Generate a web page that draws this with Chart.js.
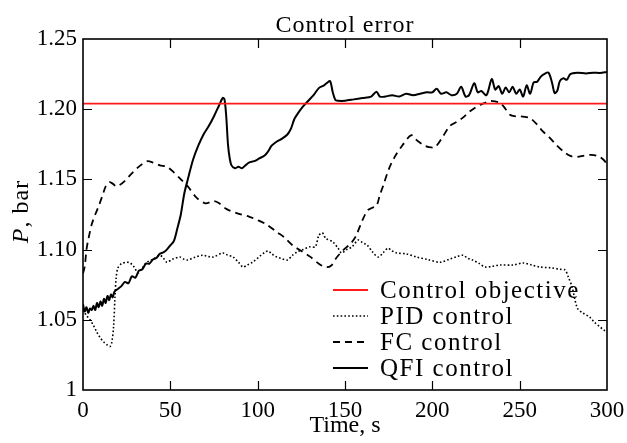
<!DOCTYPE html>
<html>
<head>
<meta charset="utf-8">
<script src="https://cdn.jsdelivr.net/npm/chart.js@4.4.1/dist/chart.umd.min.js"></script>
<style>
    body { margin: 0; background: #fff; }
    #wrap { width: 627px; height: 443px; }
</style>
</head>
<body>
<div id="wrap"><canvas id="errorChart" width="627" height="443"></canvas></div>
<script>
// Control objective (setpoint)
const objectiveValue = 1.204;
const xTicks = [0, 50, 100, 150, 200, 250, 300];
const yTicks = [1, 1.05, 1.10, 1.15, 1.20, 1.25];

// PID control
const pidTime = [0, 2, 4, 6, 8, 10, 12, 14, 15.5, 16.5, 17.5, 18.3, 19, 20, 22, 25, 27, 29, 31.6, 34, 36.6, 40, 44, 46, 48, 51, 55.5, 58, 60, 64, 68.7, 72, 74.6, 80, 83, 86, 89, 91.6, 94, 97, 101, 104, 106, 108, 111, 114, 117, 120, 122.5, 126, 130, 133, 135, 137, 139, 143, 146, 148, 151, 154, 157.6, 160, 162.6, 166, 169, 172, 174.6, 177, 179.6, 185, 191, 197, 204.4, 210, 214, 217.7, 220, 223, 227, 230, 234, 238.7, 246, 252, 257, 261.6, 268, 273, 276, 278, 280, 283, 286, 290, 293, 296, 298, 300];
const pidValues = [1.057, 1.053, 1.050, 1.046, 1.041, 1.037, 1.034, 1.032, 1.031, 1.034, 1.045, 1.066, 1.080, 1.087, 1.090, 1.091, 1.0905, 1.088, 1.0835, 1.087, 1.091, 1.093, 1.096, 1.094, 1.091, 1.093, 1.0947, 1.093, 1.0926, 1.0945, 1.096, 1.095, 1.0947, 1.0976, 1.096, 1.0947, 1.091, 1.0876, 1.089, 1.091, 1.095, 1.098, 1.099, 1.097, 1.0947, 1.0935, 1.0926, 1.096, 1.0983, 1.100, 1.102, 1.102, 1.110, 1.112, 1.108, 1.1055, 1.101, 1.0976, 1.100, 1.102, 1.1068, 1.105, 1.1033, 1.098, 1.0947, 1.098, 1.101, 1.099, 1.0976, 1.097, 1.0947, 1.093, 1.091, 1.0933, 1.095, 1.096, 1.094, 1.0926, 1.090, 1.0876, 1.088, 1.089, 1.089, 1.0905, 1.089, 1.0876, 1.087, 1.086, 1.0855, 1.080, 1.0734, 1.0584, 1.055, 1.052, 1.048, 1.0449, 1.043, 1.0413];

// FC control
const fcTime = [0, 1, 2, 3, 5, 7, 9, 11, 13, 15, 17, 19, 21, 24, 27, 31, 34, 37, 40, 44, 48, 52, 56, 60, 65, 70, 75, 78, 82, 88, 95, 100, 105, 111, 115, 120, 125, 130, 135, 139, 142, 145, 149, 153, 156, 160, 163, 166, 168, 170, 172, 175, 178, 183, 188, 191, 195, 198, 201.5, 205.5, 210, 214, 217.5, 221, 225, 229, 233, 236, 239, 242, 244.5, 247, 250, 253, 256, 260, 263, 267, 271, 275, 279, 283, 287, 291, 295, 298, 300];
const fcValues = [1.083, 1.088, 1.100, 1.107, 1.118, 1.125, 1.131, 1.138, 1.145, 1.148, 1.147, 1.145, 1.146, 1.149, 1.153, 1.158, 1.161, 1.163, 1.162, 1.160, 1.159, 1.155, 1.150, 1.145, 1.137, 1.133, 1.1345, 1.133, 1.129, 1.126, 1.1235, 1.121, 1.118, 1.1125, 1.109, 1.103, 1.099, 1.095, 1.090, 1.0875, 1.0885, 1.094, 1.0997, 1.104, 1.109, 1.121, 1.128, 1.130, 1.131, 1.139, 1.146, 1.157, 1.165, 1.1745, 1.1815, 1.178, 1.1745, 1.173, 1.173, 1.1795, 1.188, 1.191, 1.194, 1.198, 1.2015, 1.204, 1.2058, 1.2055, 1.2044, 1.200, 1.196, 1.195, 1.195, 1.1945, 1.1937, 1.189, 1.1845, 1.180, 1.1745, 1.170, 1.1667, 1.166, 1.167, 1.1675, 1.1665, 1.164, 1.161];

// QFI control
const qfiTime = [0, 1, 2, 3, 4, 5, 6, 7, 8, 9, 10, 11, 12, 13, 14, 15, 16, 17, 18, 20, 22, 24, 26, 28, 30, 32, 34, 36, 38, 40, 42, 44, 46, 48, 50, 52, 54, 56, 58, 60, 63, 66, 69, 72, 75, 78, 80, 81, 82, 83, 84, 85, 87, 89, 91, 93, 95, 98, 101, 104, 106, 108, 111, 114, 117, 119, 121, 123, 126, 129, 132, 135, 138, 140, 141.5, 143, 144.5, 146, 150, 155, 160, 165, 168, 170, 173, 177, 181, 185, 189, 193, 197, 200, 202.5, 205, 208, 211, 214, 216.5, 219, 221, 224, 226, 228, 231, 234, 236, 238, 240, 242, 244, 246, 248, 250, 252, 254, 256, 258, 260, 262, 264, 266.5, 268.5, 270, 271.5, 273, 275, 277, 279, 283, 288, 292, 296, 300];
const qfiValues = [1.061, 1.056, 1.059, 1.055, 1.058, 1.057, 1.060, 1.057, 1.062, 1.059, 1.063, 1.060, 1.065, 1.062, 1.067, 1.064, 1.068, 1.066, 1.070, 1.072, 1.074, 1.077, 1.076, 1.081, 1.080, 1.085, 1.086, 1.090, 1.090, 1.093, 1.094, 1.097, 1.098, 1.100, 1.103, 1.106, 1.115, 1.125, 1.140, 1.150, 1.164, 1.174, 1.182, 1.188, 1.195, 1.203, 1.208, 1.207, 1.195, 1.175, 1.165, 1.160, 1.158, 1.159, 1.158, 1.160, 1.162, 1.163, 1.165, 1.167, 1.170, 1.174, 1.177, 1.179, 1.182, 1.186, 1.193, 1.197, 1.202, 1.206, 1.210, 1.215, 1.217, 1.219, 1.220, 1.212, 1.2065, 1.206, 1.206, 1.207, 1.208, 1.209, 1.2125, 1.209, 1.209, 1.210, 1.209, 1.211, 1.210, 1.211, 1.212, 1.212, 1.2145, 1.211, 1.212, 1.210, 1.211, 1.216, 1.209, 1.210, 1.2185, 1.212, 1.213, 1.210, 1.2215, 1.214, 1.2165, 1.211, 1.2155, 1.212, 1.216, 1.211, 1.214, 1.209, 1.217, 1.211, 1.219, 1.2195, 1.223, 1.225, 1.226, 1.219, 1.2115, 1.213, 1.220, 1.222, 1.221, 1.225, 1.226, 1.2255, 1.226, 1.2258, 1.2265];

const serif = "'Liberation Serif', 'Times New Roman', serif";
const tickSize = 23;
const textSize = 24;

function toPoints(xs, ys) {
    return xs.map((x, i) => ({ x: x, y: ys[i] }));
}

// frame with inward ticks on all four sides, title, y label and legend
const framePlugin = {
    id: 'frame',
    afterDraw(chart) {
        const ctx = chart.ctx;
        const area = chart.chartArea;
        const xs = chart.scales.x;
        const ys = chart.scales.y;
        const tickLen = 9;

        ctx.save();
        ctx.strokeStyle = '#000';
        ctx.lineWidth = 1.2;
        ctx.beginPath();
        xTicks.forEach(v => {
            if (v === xTicks[0] || v === xTicks[xTicks.length - 1]) return;
            const px = Math.round(xs.getPixelForValue(v)) + 0.5;
            ctx.moveTo(px, area.bottom); ctx.lineTo(px, area.bottom - tickLen);
            ctx.moveTo(px, area.top); ctx.lineTo(px, area.top + tickLen);
        });
        yTicks.forEach(v => {
            if (v === yTicks[0] || v === yTicks[yTicks.length - 1]) return;
            const py = Math.round(ys.getPixelForValue(v)) + 0.5;
            ctx.moveTo(area.left, py); ctx.lineTo(area.left + tickLen, py);
            ctx.moveTo(area.right, py); ctx.lineTo(area.right - tickLen, py);
        });
        ctx.stroke();

        ctx.lineWidth = 1.6;
        ctx.strokeRect(area.left, area.top, area.right - area.left, area.bottom - area.top);

        // title
        ctx.fillStyle = '#000';
        ctx.font = textSize + 'px ' + serif;
        ctx.letterSpacing = '1px';
        ctx.textAlign = 'center';
        ctx.textBaseline = 'alphabetic';
        ctx.fillText('Control error', (area.left + area.right) / 2, area.top - 7);

        // y axis label: italic P, then ", bar"
        ctx.save();
        ctx.translate(28, (area.top + area.bottom) / 2 - 3);
        ctx.rotate(-Math.PI / 2);
        ctx.font = 'italic ' + textSize + 'px ' + serif;
        const wP = ctx.measureText('P').width;
        ctx.font = textSize + 'px ' + serif;
        const wRest = ctx.measureText(', bar').width;
        const startX = -(wP + wRest) / 2;
        ctx.textAlign = 'left';
        ctx.font = 'italic ' + textSize + 'px ' + serif;
        ctx.fillText('P', startX, 0);
        ctx.font = textSize + 'px ' + serif;
        ctx.fillText(', bar', startX + wP, 0);
        ctx.restore();

        // legend
        const lx = area.right - 274;
        const rowH = 26;
        const firstY = area.bottom - 100;
        ctx.textAlign = 'left';
        ctx.textBaseline = 'middle';
        ctx.font = '25px ' + serif;
        ctx.letterSpacing = '1.5px';
        chart.data.datasets.forEach((ds, i) => {
            const y = firstY + i * rowH;
            ctx.save();
            ctx.strokeStyle = ds.borderColor;
            ctx.lineWidth = ds.borderWidth;
            ctx.setLineDash(ds.borderDash || []);
            ctx.beginPath();
            ctx.moveTo(lx, y);
            ctx.lineTo(lx + 35, y);
            ctx.stroke();
            ctx.restore();
            ctx.fillStyle = '#000';
            ctx.fillText(ds.label, lx + 47, y + 1);
        });
        ctx.restore();
    }
};

const ctx = document.getElementById('errorChart').getContext('2d');
const errorChart = new Chart(ctx, {
    type: 'line',
    data: {
        datasets: [
            {
                label: 'Control objective',
                data: toPoints([xTicks[0], xTicks[xTicks.length - 1]], [objectiveValue, objectiveValue]),
                borderColor: '#ff1a1a',
                borderWidth: 1.8,
                pointRadius: 0
            },
            {
                label: 'PID control',
                data: toPoints(pidTime, pidValues),
                borderColor: '#000',
                borderWidth: 1.6,
                borderDash: [1.6, 2.2],
                pointRadius: 0,
                tension: 0.3
            },
            {
                label: 'FC control',
                data: toPoints(fcTime, fcValues),
                borderColor: '#000',
                borderWidth: 1.8,
                borderDash: [7, 5],
                pointRadius: 0,
                tension: 0.3
            },
            {
                label: 'QFI control',
                data: toPoints(qfiTime, qfiValues),
                borderColor: '#000',
                borderWidth: 2,
                pointRadius: 0,
                tension: 0.3
            }
        ]
    },
    options: {
        responsive: false,
        animation: false,
        layout: { padding: { top: 39, right: 20, left: 0, bottom: 0 } },
        plugins: {
            legend: { display: false },
            title: { display: false },
            tooltip: { enabled: false }
        },
        scales: {
            x: {
                type: 'linear',
                min: 0,
                max: 300,
                afterFit: s => { s.height = 53; s.paddingLeft = 0; s.paddingRight = 0; },
                afterBuildTicks: s => { s.ticks = xTicks.map(v => ({ value: v })); },
                grid: { display: false, drawTicks: false },
                border: { display: false },
                ticks: {
                    color: '#000',
                    padding: 7,
                    maxRotation: 0,
                    font: { family: serif, size: tickSize }
                },
                title: {
                    display: true,
                    text: 'Time, s',
                    color: '#000',
                    padding: { top: 0, bottom: 3 },
                    font: { family: serif, size: textSize }
                }
            },
            y: {
                min: 1,
                max: 1.25,
                afterFit: s => { s.width = 83; s.paddingTop = 0; s.paddingBottom = 0; },
                afterBuildTicks: s => { s.ticks = yTicks.map(v => ({ value: v })); },
                grid: { display: false, drawTicks: false },
                border: { display: false },
                ticks: {
                    color: '#000',
                    padding: 6,
                    font: { family: serif, size: tickSize },
                    callback: v => (v === 1 ? '1' : v.toFixed(2))
                }
            }
        }
    },
    plugins: [framePlugin]
});
</script>
</body>
</html>
